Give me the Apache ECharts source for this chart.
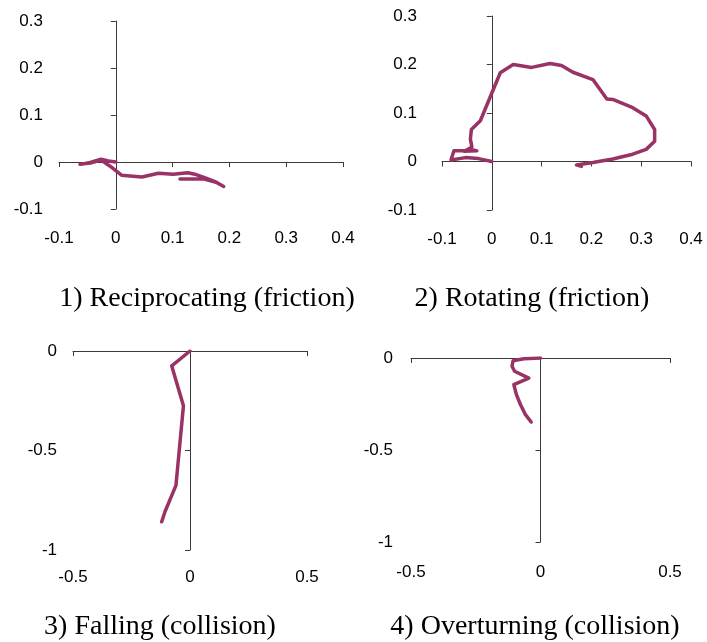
<!DOCTYPE html>
<html>
<head>
<meta charset="utf-8">
<script src="https://cdn.jsdelivr.net/npm/echarts@6/dist/echarts.min.js"></script>
<style>
  html, body { margin: 0; padding: 0; background: #fff; }
  #chart { width: 707px; height: 642px; }
</style>
</head>
<body>
<div id="chart"></div>
<script>
// trajectories (x, y)
const recipX = [0, -0.013, -0.026, -0.045, -0.063, -0.045, -0.026, -0.01, 0.01, 0.046, 0.075, 0.101, 0.127, 0.139, 0.16, 0.177, 0.19, 0.178, 0.154, 0.113]
const recipY = [0, 0.002, 0.006, -0.001, -0.005, -0.002, 0.004, -0.009, -0.028, -0.032, -0.024, -0.026, -0.023, -0.026, -0.035, -0.043, -0.052, -0.044, -0.036, -0.036]

const rotX = [0, -0.027, -0.053, -0.082, -0.076, -0.05, -0.045, -0.03, -0.055, -0.04, -0.043, -0.041, -0.023, 0.017, 0.043, 0.08, 0.117, 0.14, 0.163, 0.203, 0.231, 0.243, 0.283, 0.31, 0.327, 0.327, 0.31, 0.283, 0.243, 0.203, 0.183, 0.17, 0.18]
const rotY = [0, 0.006, 0.008, 0.003, 0.022, 0.022, 0.026, 0.022, 0.021, 0.03, 0.046, 0.066, 0.084, 0.183, 0.2, 0.194, 0.202, 0.198, 0.184, 0.169, 0.129, 0.128, 0.111, 0.094, 0.066, 0.042, 0.025, 0.015, 0.005, -0.002, -0.005, -0.007, -0.01]

const fallX = [0, -0.078, -0.028, -0.06, -0.107, -0.114, -0.121]
const fallY = [0, -0.075, -0.275, -0.675, -0.808, -0.833, -0.858]

const overX = [0, -0.064, -0.106, -0.11, -0.1, -0.045, -0.103, -0.093, -0.077, -0.058, -0.036]
const overY = [0, -0.004, -0.015, -0.045, -0.072, -0.109, -0.145, -0.199, -0.254, -0.308, -0.348]

const titles = ['1) Reciprocating (friction)', '2) Rotating (friction)', '3) Falling (collision)', '4) Overturning (collision)']

const zip = (xs, ys) => xs.map((x, i) => [x, ys[i]])

const lineColor = '#993366'
const axisColor = '#3a3a3a'
const labelFont = { fontFamily: 'Liberation Sans', fontSize: 17, color: '#000' }

// each panel: grid box, axis ranges, label margins
const panels = [
  { grid: { left: 59, top: 21, width: 284, height: 188 }, x: [-0.1, 0.4, 0.1], y: [-0.1, 0.3, 0.1], xm: 21, ym: 16, data: zip(recipX, recipY) },
  { grid: { left: 442, top: 16, width: 249, height: 194 }, x: [-0.1, 0.4, 0.1], y: [-0.1, 0.3, 0.1], xm: 21, ym: 25, data: zip(rotX, rotY) },
  { grid: { left: 73, top: 351, width: 234, height: 199 }, x: [-0.5, 0.5, 0.5], y: [-1, 0, 0.5], xm: 19, ym: 16, data: zip(fallX, fallY) },
  { grid: { left: 411, top: 358, width: 259, height: 184 }, x: [-0.5, 0.5, 0.5], y: [-1, 0, 0.5], xm: 22, ym: 18, data: zip(overX, overY) }
]

const grid = []
const xAxis = []
const yAxis = []
const series = []

panels.forEach((p, i) => {
  grid.push(p.grid)
  // axis that carries the line through zero
  xAxis.push({
    type: 'value', gridIndex: i, min: p.x[0], max: p.x[1], interval: p.x[2],
    position: 'bottom',
    axisLine: { onZero: true, onZeroAxisIndex: 2 * i, lineStyle: { color: axisColor, width: 1 } },
    axisTick: { show: true, length: 5, lineStyle: { color: axisColor } },
    axisLabel: { show: false },
    splitLine: { show: false }
  })
  // axis that only carries the labels at the bottom
  xAxis.push({
    type: 'value', gridIndex: i, min: p.x[0], max: p.x[1], interval: p.x[2],
    position: 'bottom',
    axisLine: { show: false, onZero: false },
    axisTick: { show: false },
    axisLabel: { margin: p.xm, ...labelFont },
    splitLine: { show: false }
  })
  yAxis.push({
    type: 'value', gridIndex: i, min: p.y[0], max: p.y[1], interval: p.y[2],
    position: 'left',
    axisLine: { show: true, onZero: true, onZeroAxisIndex: 2 * i, lineStyle: { color: axisColor, width: 1 } },
    axisTick: { show: true, length: 5, lineStyle: { color: axisColor } },
    axisLabel: { show: false },
    splitLine: { show: false }
  })
  yAxis.push({
    type: 'value', gridIndex: i, min: p.y[0], max: p.y[1], interval: p.y[2],
    position: 'left',
    axisLine: { show: false, onZero: false },
    axisTick: { show: false },
    axisLabel: { margin: p.ym, ...labelFont },
    splitLine: { show: false }
  })
  series.push({
    type: 'line',
    xAxisIndex: 2 * i,
    yAxisIndex: 2 * i,
    data: p.data,
    showSymbol: false,
    symbol: 'none',
    smooth: false,
    lineStyle: { color: lineColor, width: 3.5, join: 'round', cap: 'round' },
    animation: false
  })
})

const titlePos = [[207, 299], [532, 299], [160, 627], [535, 627]]

const chart = echarts.init(document.getElementById('chart'), null, { renderer: 'canvas' })
chart.setOption({
  animation: false,
  backgroundColor: '#fff',
  grid: grid,
  xAxis: xAxis,
  yAxis: yAxis,
  series: series,
  graphic: titles.map((t, i) => ({
    type: 'text',
    x: titlePos[i][0],
    y: titlePos[i][1],
    style: {
      text: t,
      fontFamily: 'Liberation Serif',
      fontSize: 28,
      fill: '#000',
      align: 'center',
      verticalAlign: 'middle'
    }
  }))
})
</script>
</body>
</html>
